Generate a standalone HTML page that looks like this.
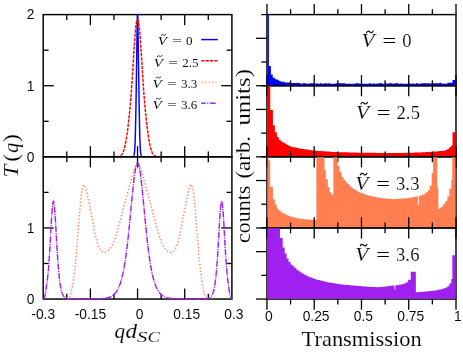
<!DOCTYPE html>
<html><head><meta charset="utf-8"><title>chart</title>
<style>html,body{margin:0;padding:0;background:#fff;overflow:hidden}svg{display:block;will-change:transform}</style></head>
<body><svg width="463" height="353" viewBox="0 0 463 353">
<rect width="463" height="353" fill="#fff"/>
<rect x="43.2" y="14.6" width="188.7" height="142.22" fill="none" stroke="#000" stroke-width="1.45"/>
<line x1="66.79" y1="14.6" x2="66.79" y2="20" stroke="#000" stroke-width="1.3"/>
<line x1="66.79" y1="156.82" x2="66.79" y2="151.42" stroke="#000" stroke-width="1.3"/>
<line x1="90.38" y1="14.6" x2="90.38" y2="25.2" stroke="#000" stroke-width="1.3"/>
<line x1="90.38" y1="156.82" x2="90.38" y2="146.22" stroke="#000" stroke-width="1.3"/>
<line x1="113.96" y1="14.6" x2="113.96" y2="20" stroke="#000" stroke-width="1.3"/>
<line x1="113.96" y1="156.82" x2="113.96" y2="151.42" stroke="#000" stroke-width="1.3"/>
<line x1="137.55" y1="14.6" x2="137.55" y2="25.2" stroke="#000" stroke-width="1.3"/>
<line x1="137.55" y1="156.82" x2="137.55" y2="146.22" stroke="#000" stroke-width="1.3"/>
<line x1="161.14" y1="14.6" x2="161.14" y2="20" stroke="#000" stroke-width="1.3"/>
<line x1="161.14" y1="156.82" x2="161.14" y2="151.42" stroke="#000" stroke-width="1.3"/>
<line x1="184.72" y1="14.6" x2="184.72" y2="25.2" stroke="#000" stroke-width="1.3"/>
<line x1="184.72" y1="156.82" x2="184.72" y2="146.22" stroke="#000" stroke-width="1.3"/>
<line x1="208.31" y1="14.6" x2="208.31" y2="20" stroke="#000" stroke-width="1.3"/>
<line x1="208.31" y1="156.82" x2="208.31" y2="151.42" stroke="#000" stroke-width="1.3"/>
<line x1="43.2" y1="50.16" x2="48.6" y2="50.16" stroke="#000" stroke-width="1.3"/>
<line x1="231.9" y1="50.16" x2="226.5" y2="50.16" stroke="#000" stroke-width="1.3"/>
<line x1="43.2" y1="85.71" x2="53.8" y2="85.71" stroke="#000" stroke-width="1.3"/>
<line x1="231.9" y1="85.71" x2="221.3" y2="85.71" stroke="#000" stroke-width="1.3"/>
<line x1="43.2" y1="121.27" x2="48.6" y2="121.27" stroke="#000" stroke-width="1.3"/>
<line x1="231.9" y1="121.27" x2="226.5" y2="121.27" stroke="#000" stroke-width="1.3"/>
<g fill="none" stroke-width="1.45" stroke-linejoin="round">
<path d="M132.55,156.82 L132.62,156.78 L132.71,156.74 L132.81,156.69 L132.93,156.63 L133.06,156.57 L133.19,156.49 L133.31,156.39 L133.44,156.27 L133.55,156.14 L133.65,155.97 L133.74,155.79 L133.82,155.6 L133.9,155.39 L133.97,155.17 L134.04,154.92 L134.1,154.65 L134.17,154.36 L134.23,154.03 L134.29,153.67 L134.35,153.27 L134.41,152.84 L134.46,152.39 L134.52,151.92 L134.57,151.41 L134.62,150.88 L134.67,150.31 L134.71,149.69 L134.76,149.04 L134.8,148.34 L134.85,147.58 L134.89,146.79 L134.94,145.96 L134.98,145.11 L135.02,144.21 L135.06,143.27 L135.09,142.27 L135.13,141.22 L135.17,140.09 L135.21,138.9 L135.25,137.62 L135.29,136.25 L135.33,134.79 L135.37,133.23 L135.41,131.61 L135.45,129.94 L135.49,128.22 L135.53,126.48 L135.57,124.73 L135.61,122.99 L135.65,121.27 L135.69,119.57 L135.72,117.9 L135.76,116.22 L135.79,114.53 L135.83,112.82 L135.86,111.08 L135.9,109.29 L135.93,107.43 L135.97,105.51 L136,103.49 L136.03,101.39 L136.07,99.21 L136.1,96.96 L136.14,94.65 L136.17,92.29 L136.21,89.89 L136.24,87.45 L136.28,84.99 L136.31,82.51 L136.35,80.02 L136.39,77.52 L136.43,74.99 L136.46,72.43 L136.5,69.84 L136.54,67.22 L136.58,64.58 L136.62,61.9 L136.67,59.2 L136.71,56.47 L136.75,53.71 L136.79,50.83 L136.84,47.76 L136.88,44.57 L136.93,41.33 L136.98,38.11 L137.02,34.97 L137.07,31.98 L137.12,29.2 L137.16,26.71 L137.2,24.56 L137.24,22.69 L137.28,21.02 L137.31,19.53 L137.35,18.24 L137.38,17.13 L137.41,16.23 L137.45,15.52 L137.48,15.01 L137.52,14.7 L137.55,14.6 L137.58,14.7 L137.62,15.01 L137.65,15.52 L137.69,16.23 L137.72,17.13 L137.75,18.24 L137.79,19.53 L137.82,21.02 L137.86,22.69 L137.9,24.56 L137.94,26.71 L137.98,29.2 L138.03,31.98 L138.08,34.97 L138.12,38.11 L138.17,41.33 L138.22,44.57 L138.26,47.76 L138.31,50.83 L138.35,53.71 L138.39,56.47 L138.43,59.2 L138.48,61.9 L138.52,64.58 L138.56,67.22 L138.6,69.84 L138.64,72.43 L138.67,74.99 L138.71,77.52 L138.75,80.02 L138.79,82.51 L138.82,84.99 L138.86,87.45 L138.89,89.89 L138.93,92.29 L138.96,94.65 L139,96.96 L139.03,99.21 L139.07,101.39 L139.1,103.49 L139.13,105.51 L139.17,107.43 L139.2,109.29 L139.24,111.08 L139.27,112.82 L139.31,114.53 L139.34,116.22 L139.38,117.9 L139.41,119.57 L139.45,121.27 L139.49,122.99 L139.53,124.73 L139.57,126.48 L139.61,128.22 L139.65,129.94 L139.69,131.61 L139.73,133.23 L139.77,134.79 L139.81,136.25 L139.85,137.62 L139.89,138.9 L139.93,140.09 L139.97,141.22 L140.01,142.27 L140.04,143.27 L140.08,144.21 L140.12,145.11 L140.16,145.96 L140.21,146.79 L140.25,147.58 L140.3,148.34 L140.34,149.04 L140.39,149.69 L140.43,150.31 L140.48,150.88 L140.53,151.41 L140.58,151.92 L140.64,152.39 L140.69,152.84 L140.75,153.27 L140.81,153.67 L140.87,154.03 L140.93,154.36 L141,154.65 L141.06,154.92 L141.13,155.17 L141.2,155.39 L141.28,155.6 L141.36,155.79 L141.45,155.97 L141.55,156.14 L141.66,156.27 L141.79,156.39 L141.91,156.49 L142.04,156.57 L142.17,156.63 L142.29,156.69 L142.39,156.74 L142.48,156.78 L142.55,156.82" stroke="#0000ff"/>
<path d="M116.55,156.82 L116.73,156.8 L116.97,156.76 L117.26,156.73 L117.58,156.69 L117.93,156.64 L118.28,156.58 L118.63,156.52 L118.97,156.44 L119.28,156.36 L119.55,156.26 L119.79,156.14 L120.02,156.02 L120.24,155.89 L120.45,155.75 L120.64,155.59 L120.83,155.43 L121.02,155.26 L121.2,155.08 L121.37,154.89 L121.55,154.69 L121.72,154.49 L121.88,154.29 L122.04,154.08 L122.19,153.87 L122.33,153.64 L122.47,153.4 L122.62,153.14 L122.76,152.85 L122.9,152.54 L123.05,152.2 L123.2,151.84 L123.35,151.45 L123.5,151.05 L123.65,150.63 L123.8,150.18 L123.95,149.71 L124.1,149.22 L124.25,148.7 L124.4,148.15 L124.55,147.58 L124.7,146.98 L124.85,146.36 L125,145.72 L125.15,145.05 L125.3,144.36 L125.45,143.64 L125.6,142.89 L125.75,142.11 L125.9,141.31 L126.05,140.47 L126.2,139.61 L126.35,138.73 L126.5,137.83 L126.65,136.9 L126.79,135.94 L126.94,134.94 L127.09,133.9 L127.24,132.82 L127.4,131.69 L127.55,130.51 L127.71,129.27 L127.87,127.96 L128.03,126.61 L128.19,125.2 L128.35,123.76 L128.51,122.29 L128.67,120.8 L128.83,119.29 L128.99,117.79 L129.15,116.29 L129.3,114.81 L129.46,113.33 L129.61,111.86 L129.76,110.37 L129.91,108.87 L130.05,107.33 L130.2,105.75 L130.35,104.12 L130.5,102.42 L130.65,100.65 L130.8,98.8 L130.95,96.87 L131.1,94.89 L131.25,92.86 L131.41,90.78 L131.56,88.67 L131.71,86.52 L131.86,84.36 L132,82.19 L132.15,80.02 L132.29,77.83 L132.43,75.6 L132.57,73.33 L132.71,71.04 L132.85,68.73 L132.99,66.42 L133.13,64.11 L133.27,61.81 L133.41,59.52 L133.55,57.27 L133.7,54.99 L133.85,52.65 L134,50.29 L134.15,47.92 L134.31,45.58 L134.46,43.29 L134.61,41.08 L134.76,38.98 L134.91,37.02 L135.05,35.22 L135.19,33.57 L135.32,32.03 L135.46,30.6 L135.59,29.26 L135.72,28.02 L135.85,26.88 L135.97,25.82 L136.1,24.85 L136.22,23.95 L136.35,23.13 L136.47,22.4 L136.6,21.76 L136.72,21.22 L136.84,20.76 L136.96,20.38 L137.07,20.08 L137.19,19.85 L137.31,19.7 L137.43,19.61 L137.55,19.58 L137.67,19.61 L137.79,19.7 L137.91,19.85 L138.03,20.08 L138.14,20.38 L138.26,20.76 L138.38,21.22 L138.5,21.76 L138.63,22.4 L138.75,23.13 L138.88,23.95 L139,24.85 L139.13,25.82 L139.25,26.88 L139.38,28.02 L139.51,29.26 L139.64,30.6 L139.78,32.03 L139.91,33.57 L140.05,35.22 L140.19,37.02 L140.34,38.98 L140.49,41.08 L140.64,43.29 L140.79,45.58 L140.95,47.92 L141.1,50.29 L141.25,52.65 L141.4,54.99 L141.55,57.27 L141.69,59.52 L141.83,61.81 L141.97,64.11 L142.11,66.42 L142.25,68.73 L142.39,71.04 L142.53,73.33 L142.67,75.6 L142.81,77.83 L142.95,80.02 L143.1,82.19 L143.24,84.36 L143.39,86.52 L143.54,88.67 L143.69,90.78 L143.85,92.86 L144,94.89 L144.15,96.87 L144.3,98.8 L144.45,100.65 L144.6,102.42 L144.75,104.12 L144.9,105.75 L145.05,107.33 L145.19,108.87 L145.34,110.37 L145.49,111.86 L145.64,113.33 L145.8,114.81 L145.95,116.29 L146.11,117.79 L146.27,119.29 L146.43,120.8 L146.59,122.29 L146.75,123.76 L146.91,125.2 L147.07,126.61 L147.23,127.96 L147.39,129.27 L147.55,130.51 L147.7,131.69 L147.86,132.82 L148.01,133.9 L148.16,134.94 L148.31,135.94 L148.45,136.9 L148.6,137.83 L148.75,138.73 L148.9,139.61 L149.05,140.47 L149.2,141.31 L149.35,142.11 L149.5,142.89 L149.65,143.64 L149.8,144.36 L149.95,145.05 L150.1,145.72 L150.25,146.36 L150.4,146.98 L150.55,147.58 L150.7,148.15 L150.85,148.7 L151,149.22 L151.15,149.71 L151.3,150.18 L151.45,150.63 L151.6,151.05 L151.75,151.45 L151.9,151.84 L152.05,152.2 L152.2,152.54 L152.34,152.85 L152.48,153.14 L152.63,153.4 L152.77,153.64 L152.91,153.87 L153.06,154.08 L153.22,154.29 L153.38,154.49 L153.55,154.69 L153.73,154.89 L153.9,155.08 L154.08,155.26 L154.27,155.43 L154.46,155.59 L154.65,155.75 L154.86,155.89 L155.08,156.02 L155.31,156.14 L155.55,156.26 L155.82,156.36 L156.13,156.44 L156.47,156.52 L156.82,156.58 L157.18,156.64 L157.52,156.69 L157.84,156.73 L158.13,156.76 L158.37,156.8 L158.55,156.82" stroke="#ff0000" stroke-dasharray="3.2 1.1"/>
</g>
<rect x="43.2" y="156.82" width="188.7" height="142.22" fill="none" stroke="#000" stroke-width="1.45"/>
<line x1="66.79" y1="156.82" x2="66.79" y2="162.22" stroke="#000" stroke-width="1.3"/>
<line x1="66.79" y1="299.05" x2="66.79" y2="293.65" stroke="#000" stroke-width="1.3"/>
<line x1="90.38" y1="156.82" x2="90.38" y2="167.42" stroke="#000" stroke-width="1.3"/>
<line x1="90.38" y1="299.05" x2="90.38" y2="288.45" stroke="#000" stroke-width="1.3"/>
<line x1="113.96" y1="156.82" x2="113.96" y2="162.22" stroke="#000" stroke-width="1.3"/>
<line x1="113.96" y1="299.05" x2="113.96" y2="293.65" stroke="#000" stroke-width="1.3"/>
<line x1="137.55" y1="156.82" x2="137.55" y2="167.42" stroke="#000" stroke-width="1.3"/>
<line x1="137.55" y1="299.05" x2="137.55" y2="288.45" stroke="#000" stroke-width="1.3"/>
<line x1="161.14" y1="156.82" x2="161.14" y2="162.22" stroke="#000" stroke-width="1.3"/>
<line x1="161.14" y1="299.05" x2="161.14" y2="293.65" stroke="#000" stroke-width="1.3"/>
<line x1="184.72" y1="156.82" x2="184.72" y2="167.42" stroke="#000" stroke-width="1.3"/>
<line x1="184.72" y1="299.05" x2="184.72" y2="288.45" stroke="#000" stroke-width="1.3"/>
<line x1="208.31" y1="156.82" x2="208.31" y2="162.22" stroke="#000" stroke-width="1.3"/>
<line x1="208.31" y1="299.05" x2="208.31" y2="293.65" stroke="#000" stroke-width="1.3"/>
<line x1="43.2" y1="192.38" x2="48.6" y2="192.38" stroke="#000" stroke-width="1.3"/>
<line x1="231.9" y1="192.38" x2="226.5" y2="192.38" stroke="#000" stroke-width="1.3"/>
<line x1="43.2" y1="227.94" x2="53.8" y2="227.94" stroke="#000" stroke-width="1.3"/>
<line x1="231.9" y1="227.94" x2="221.3" y2="227.94" stroke="#000" stroke-width="1.3"/>
<line x1="43.2" y1="263.49" x2="48.6" y2="263.49" stroke="#000" stroke-width="1.3"/>
<line x1="231.9" y1="263.49" x2="226.5" y2="263.49" stroke="#000" stroke-width="1.3"/>
<g fill="none" stroke-width="1.45" stroke-linejoin="round">
<path d="M67.05,299.05 L67.12,299.05 L67.21,299.05 L67.31,299.05 L67.42,299.05 L67.54,299.05 L67.68,299.05 L67.82,299.05 L67.96,299.05 L68.1,299.05 L68.25,299.05 L68.4,298.9 L68.55,298.73 L68.72,298.55 L68.88,298.33 L69.06,298.09 L69.23,297.8 L69.41,297.48 L69.59,297.11 L69.77,296.68 L69.95,296.21 L70.13,295.69 L70.31,295.16 L70.49,294.59 L70.67,293.99 L70.86,293.33 L71.04,292.61 L71.24,291.82 L71.43,290.94 L71.64,289.96 L71.85,288.88 L72.07,287.67 L72.31,286.34 L72.55,284.9 L72.8,283.37 L73.06,281.77 L73.31,280.13 L73.56,278.45 L73.8,276.77 L74.03,275.1 L74.25,273.45 L74.46,271.8 L74.66,270.1 L74.85,268.36 L75.04,266.6 L75.23,264.84 L75.4,263.08 L75.57,261.35 L75.74,259.64 L75.9,257.98 L76.05,256.38 L76.19,254.85 L76.33,253.38 L76.45,251.95 L76.57,250.56 L76.68,249.18 L76.79,247.81 L76.9,246.44 L77.01,245.05 L77.13,243.63 L77.25,242.16 L77.37,240.68 L77.5,239.21 L77.62,237.75 L77.74,236.28 L77.87,234.78 L78,233.25 L78.13,231.67 L78.26,230.03 L78.4,228.32 L78.55,226.52 L78.7,224.58 L78.86,222.5 L79.03,220.31 L79.2,218.05 L79.38,215.76 L79.55,213.48 L79.73,211.24 L79.9,209.08 L80.08,207.05 L80.25,205.18 L80.42,203.44 L80.58,201.75 L80.75,200.14 L80.91,198.6 L81.08,197.13 L81.24,195.73 L81.41,194.42 L81.58,193.18 L81.76,192.03 L81.95,190.96 L82.14,189.96 L82.34,189.01 L82.55,188.12 L82.76,187.32 L82.97,186.59 L83.18,185.97 L83.4,185.46 L83.62,185.07 L83.83,184.81 L84.05,184.7 L84.26,184.75 L84.48,184.95 L84.69,185.29 L84.9,185.75 L85.11,186.32 L85.33,186.99 L85.55,187.73 L85.78,188.53 L86.01,189.37 L86.25,190.25 L86.5,191.17 L86.74,192.16 L86.99,193.21 L87.25,194.34 L87.51,195.52 L87.77,196.78 L88.05,198.09 L88.34,199.47 L88.64,200.91 L88.95,202.41 L89.28,204.01 L89.64,205.73 L90.01,207.56 L90.39,209.45 L90.78,211.39 L91.17,213.35 L91.56,215.3 L91.94,217.21 L92.3,219.06 L92.65,220.83 L92.98,222.54 L93.3,224.26 L93.61,225.97 L93.92,227.65 L94.22,229.3 L94.51,230.91 L94.8,232.45 L95.09,233.93 L95.37,235.32 L95.65,236.61 L95.92,237.81 L96.19,238.93 L96.45,239.97 L96.7,240.93 L96.95,241.84 L97.2,242.69 L97.45,243.5 L97.71,244.27 L97.98,245 L98.25,245.72 L98.53,246.39 L98.82,247.03 L99.11,247.61 L99.4,248.16 L99.7,248.66 L100,249.13 L100.31,249.57 L100.62,249.97 L100.93,250.34 L101.25,250.69 L101.57,251.02 L101.9,251.32 L102.22,251.6 L102.56,251.84 L102.89,252.05 L103.23,252.22 L103.58,252.35 L103.93,252.44 L104.29,252.48 L104.65,252.47 L105.02,252.4 L105.41,252.28 L105.8,252.09 L106.2,251.87 L106.6,251.6 L107,251.31 L107.4,250.99 L107.79,250.66 L108.18,250.32 L108.55,249.98 L108.91,249.65 L109.26,249.32 L109.6,248.99 L109.93,248.64 L110.26,248.26 L110.59,247.86 L110.92,247.41 L111.26,246.91 L111.6,246.35 L111.95,245.72 L112.3,245.04 L112.65,244.35 L112.99,243.63 L113.34,242.87 L113.69,242.05 L114.05,241.16 L114.42,240.18 L114.81,239.11 L115.22,237.92 L115.65,236.61 L116.11,235.15 L116.6,233.53 L117.11,231.78 L117.64,229.93 L118.18,228 L118.72,226.03 L119.26,224.03 L119.81,222.05 L120.34,220.09 L120.85,218.2 L121.36,216.32 L121.86,214.42 L122.36,212.5 L122.87,210.57 L123.36,208.65 L123.85,206.74 L124.34,204.86 L124.82,203.02 L125.29,201.23 L125.75,199.49 L126.2,197.81 L126.65,196.17 L127.08,194.57 L127.51,192.99 L127.94,191.46 L128.35,189.95 L128.76,188.47 L129.17,187.02 L129.56,185.6 L129.95,184.2 L130.33,182.81 L130.72,181.43 L131.1,180.06 L131.47,178.71 L131.83,177.4 L132.18,176.14 L132.52,174.93 L132.85,173.79 L133.16,172.73 L133.45,171.76 L133.72,170.88 L133.97,170.08 L134.21,169.35 L134.43,168.69 L134.64,168.09 L134.84,167.54 L135.03,167.04 L135.21,166.57 L135.38,166.13 L135.55,165.71 L135.71,165.34 L135.85,165.01 L135.99,164.74 L136.11,164.51 L136.23,164.31 L136.34,164.14 L136.45,163.99 L136.55,163.85 L136.65,163.72 L136.75,163.58 L136.85,163.45 L136.94,163.32 L137.02,163.22 L137.1,163.13 L137.18,163.05 L137.25,162.98 L137.32,162.93 L137.4,162.9 L137.47,162.88 L137.55,162.87 L137.63,162.88 L137.7,162.9 L137.78,162.93 L137.85,162.98 L137.93,163.05 L138,163.13 L138.08,163.22 L138.16,163.32 L138.25,163.45 L138.35,163.58 L138.45,163.72 L138.55,163.85 L138.65,163.99 L138.76,164.14 L138.87,164.31 L138.99,164.51 L139.11,164.74 L139.25,165.01 L139.39,165.34 L139.55,165.71 L139.72,166.13 L139.89,166.57 L140.07,167.04 L140.26,167.54 L140.46,168.09 L140.67,168.69 L140.89,169.35 L141.13,170.08 L141.38,170.88 L141.65,171.76 L141.94,172.73 L142.25,173.79 L142.58,174.93 L142.92,176.14 L143.27,177.4 L143.63,178.71 L144,180.06 L144.38,181.43 L144.77,182.81 L145.15,184.2 L145.54,185.6 L145.93,187.02 L146.34,188.47 L146.75,189.95 L147.16,191.46 L147.59,192.99 L148.02,194.57 L148.45,196.17 L148.9,197.81 L149.35,199.49 L149.81,201.23 L150.28,203.02 L150.76,204.86 L151.25,206.74 L151.74,208.65 L152.23,210.57 L152.74,212.5 L153.24,214.42 L153.74,216.32 L154.25,218.2 L154.76,220.09 L155.29,222.05 L155.84,224.03 L156.38,226.03 L156.93,228 L157.46,229.93 L157.99,231.78 L158.5,233.53 L158.99,235.15 L159.45,236.61 L159.88,237.92 L160.29,239.11 L160.68,240.18 L161.05,241.16 L161.41,242.05 L161.76,242.87 L162.11,243.63 L162.45,244.35 L162.8,245.04 L163.15,245.72 L163.5,246.35 L163.84,246.91 L164.18,247.41 L164.51,247.86 L164.84,248.26 L165.17,248.64 L165.5,248.99 L165.84,249.32 L166.19,249.65 L166.55,249.98 L166.92,250.32 L167.31,250.66 L167.7,250.99 L168.1,251.31 L168.5,251.6 L168.9,251.87 L169.3,252.09 L169.69,252.28 L170.08,252.4 L170.45,252.47 L170.81,252.48 L171.17,252.44 L171.52,252.35 L171.87,252.22 L172.21,252.05 L172.54,251.84 L172.88,251.6 L173.2,251.32 L173.53,251.02 L173.85,250.69 L174.17,250.34 L174.48,249.97 L174.79,249.57 L175.1,249.13 L175.4,248.66 L175.7,248.16 L175.99,247.61 L176.28,247.03 L176.57,246.39 L176.85,245.72 L177.12,245 L177.39,244.27 L177.65,243.5 L177.9,242.69 L178.15,241.84 L178.4,240.93 L178.65,239.97 L178.91,238.93 L179.18,237.81 L179.45,236.61 L179.73,235.32 L180.01,233.93 L180.3,232.45 L180.59,230.91 L180.88,229.3 L181.18,227.65 L181.49,225.97 L181.8,224.26 L182.12,222.54 L182.45,220.83 L182.8,219.06 L183.16,217.21 L183.54,215.3 L183.93,213.35 L184.32,211.39 L184.71,209.45 L185.09,207.56 L185.46,205.73 L185.82,204.01 L186.15,202.41 L186.46,200.91 L186.76,199.47 L187.05,198.09 L187.33,196.78 L187.59,195.52 L187.85,194.34 L188.11,193.21 L188.36,192.16 L188.6,191.17 L188.85,190.25 L189.09,189.37 L189.32,188.53 L189.55,187.73 L189.77,186.99 L189.99,186.32 L190.2,185.75 L190.41,185.29 L190.62,184.95 L190.84,184.75 L191.05,184.7 L191.27,184.81 L191.48,185.07 L191.7,185.46 L191.92,185.97 L192.13,186.59 L192.34,187.32 L192.55,188.12 L192.76,189.01 L192.96,189.96 L193.15,190.96 L193.34,192.03 L193.52,193.18 L193.69,194.42 L193.86,195.73 L194.03,197.13 L194.19,198.6 L194.35,200.14 L194.52,201.75 L194.68,203.44 L194.85,205.18 L195.02,207.05 L195.2,209.08 L195.37,211.24 L195.55,213.48 L195.72,215.76 L195.9,218.05 L196.07,220.31 L196.24,222.5 L196.4,224.58 L196.55,226.52 L196.7,228.32 L196.84,230.03 L196.97,231.67 L197.1,233.25 L197.23,234.78 L197.36,236.28 L197.48,237.75 L197.6,239.21 L197.73,240.68 L197.85,242.16 L197.97,243.63 L198.09,245.05 L198.2,246.44 L198.31,247.81 L198.42,249.18 L198.53,250.56 L198.65,251.95 L198.77,253.38 L198.91,254.85 L199.05,256.38 L199.2,257.98 L199.36,259.64 L199.53,261.35 L199.7,263.08 L199.88,264.84 L200.06,266.6 L200.25,268.36 L200.44,270.1 L200.64,271.8 L200.85,273.45 L201.07,275.1 L201.3,276.77 L201.54,278.45 L201.79,280.13 L202.04,281.77 L202.3,283.37 L202.55,284.9 L202.79,286.34 L203.03,287.67 L203.25,288.88 L203.46,289.96 L203.67,290.94 L203.86,291.82 L204.06,292.61 L204.24,293.33 L204.43,293.99 L204.61,294.59 L204.79,295.16 L204.97,295.69 L205.15,296.21 L205.33,296.68 L205.51,297.11 L205.69,297.48 L205.87,297.8 L206.04,298.09 L206.22,298.33 L206.38,298.55 L206.55,298.73 L206.7,298.9 L206.85,299.05 L207,299.05 L207.14,299.05 L207.28,299.05 L207.42,299.05 L207.56,299.05 L207.68,299.05 L207.79,299.05 L207.89,299.05 L207.98,299.05 L208.05,299.05" stroke="#ff7f50" stroke-dasharray="1.3 2.1"/>
<path d="M43.2,299.05 L43.45,298.79 L43.7,298.47 L43.95,298.08 L44.2,297.59 L44.45,297 L44.7,296.29 L44.95,295.44 L45.2,294.43 L45.45,293.22 L45.7,291.79 L45.95,290.11 L46.2,288.14 L46.45,286.03 L46.7,284.51 L46.95,282.83 L47.2,280.98 L47.45,278.95 L47.7,276.71 L47.95,274.27 L48.2,271.61 L48.45,268.73 L48.7,265.61 L48.95,262.27 L49.2,258.7 L49.45,254.91 L49.7,250.92 L49.95,246.75 L50.2,242.43 L50.45,238.01 L50.7,233.54 L50.95,229.07 L51.2,224.67 L51.45,220.42 L51.7,216.4 L51.95,212.69 L52.2,209.38 L52.45,206.54 L52.7,204.25 L52.95,202.57 L53.2,201.55 L53.45,201.2 L53.7,201.55 L53.95,202.57 L54.2,204.25 L54.45,206.54 L54.7,209.38 L54.95,212.69 L55.2,216.4 L55.45,220.42 L55.7,224.67 L55.95,229.07 L56.2,233.54 L56.45,238.01 L56.7,242.43 L56.95,246.75 L57.2,250.92 L57.45,254.91 L57.7,258.7 L57.95,262.27 L58.2,265.61 L58.45,268.73 L58.7,271.61 L58.95,274.27 L59.2,276.71 L59.45,278.95 L59.7,280.98 L59.95,282.83 L60.2,284.51 L60.45,286.03 L60.7,287.4 L60.95,288.64 L61.2,289.75 L61.45,290.75 L61.7,291.64 L61.95,292.45 L62.2,293.17 L62.45,293.81 L62.7,294.38 L62.95,294.89 L63.2,295.35 L63.45,295.76 L63.7,296.12 L63.95,296.45 L64.2,296.74 L64.45,296.99 L64.7,297.22 L64.95,297.43 L65.2,297.61 L65.45,297.77 L65.7,297.91 L65.95,298.04 L66.2,298.15 L66.45,298.25 L66.7,298.34 L66.95,298.42 L67.2,298.49 L67.45,298.55 L67.7,298.61 L67.95,298.66 L68.2,298.7 L68.45,298.74 L68.7,298.78 L68.95,298.81 L69.2,298.83 L69.45,298.86 L69.7,298.88 L69.95,298.9 L70.2,298.91 L70.45,298.93 L70.7,298.94 L70.95,298.96 L71.2,298.97 L71.45,298.98 L71.7,298.98 L71.95,298.99 L72.2,299 L72.45,299 L72.7,299.01 L72.95,299.01 L73.2,299.02 L73.45,299.02 L73.7,299.02 L73.95,299.03 L74.2,299.03 L74.45,299.03 L74.7,299.03 L74.95,299.03 L75.2,299.04 L75.45,299.04 L75.7,299.04 L75.95,299.04 L76.2,299.04 L76.45,299.04 L76.7,299.04 L76.95,299.04 L77.2,299.04 L77.45,299.04 L77.7,299.04 L77.95,299.04 L78.2,299.04 L78.45,299.04 L78.7,299.04 L78.95,299.04 L79.2,299.04 L79.45,299.04 L79.7,299.04 L79.95,299.04 L80.2,299.04 L80.45,299.04 L80.7,299.04 L80.95,299.04 L81.2,299.04 L81.45,299.04 L81.7,299.04 L81.95,299.04 L82.2,299.04 L82.45,299.04 L82.7,299.04 L82.95,299.04 L83.2,299.04 L83.45,299.04 L83.7,299.04 L83.95,299.04 L84.2,299.04 L84.45,299.04 L84.7,299.04 L84.95,299.04 L85.2,299.04 L85.45,299.04 L85.7,299.03 L85.95,299.03 L86.2,299.03 L86.45,299.03 L86.7,299.03 L86.95,299.03 L87.2,299.03 L87.45,299.03 L87.7,299.03 L87.95,299.03 L88.2,299.02 L88.45,299.02 L88.7,299.02 L88.95,299.02 L89.2,299.02 L89.45,299.02 L89.7,299.02 L89.95,299.01 L90.2,299.01 L90.45,299.01 L90.7,299.01 L90.95,299.01 L91.2,299 L91.45,299 L91.7,299 L91.95,299 L92.2,298.99 L92.45,298.99 L92.7,298.99 L92.95,298.98 L93.2,298.98 L93.45,298.98 L93.7,298.97 L93.95,298.97 L94.2,298.96 L94.45,298.96 L94.7,298.96 L94.95,298.95 L95.2,298.95 L95.45,298.94 L95.7,298.93 L95.95,298.93 L96.2,298.92 L96.45,298.92 L96.7,298.91 L96.95,298.9 L97.2,298.89 L97.45,298.89 L97.7,298.88 L97.95,298.87 L98.2,298.86 L98.45,298.85 L98.7,298.84 L98.95,298.83 L99.2,298.82 L99.45,298.8 L99.7,298.79 L99.95,298.78 L100.2,298.76 L100.45,298.75 L100.7,298.73 L100.95,298.72 L101.2,298.7 L101.45,298.68 L101.7,298.66 L101.95,298.64 L102.2,298.62 L102.45,298.6 L102.7,298.58 L102.95,298.55 L103.2,298.52 L103.45,298.5 L103.7,298.47 L103.95,298.44 L104.2,298.41 L104.45,298.37 L104.7,298.34 L104.95,298.3 L105.2,298.26 L105.45,298.22 L105.7,298.18 L105.95,298.14 L106.2,298.09 L106.45,298.04 L106.7,297.99 L106.95,297.93 L107.2,297.87 L107.45,297.81 L107.7,297.75 L107.95,297.68 L108.2,297.61 L108.45,297.54 L108.7,297.46 L108.95,297.38 L109.2,297.29 L109.45,297.2 L109.7,297.11 L109.95,297.01 L110.2,296.9 L110.45,296.79 L110.7,296.68 L110.95,296.55 L111.2,296.43 L111.45,296.29 L111.7,296.15 L111.95,296 L112.2,295.85 L112.45,295.68 L112.7,295.51 L112.95,295.33 L113.2,295.14 L113.45,294.94 L113.7,294.73 L113.95,294.51 L114.2,294.28 L114.45,294.04 L114.7,293.78 L114.95,293.51 L115.2,293.23 L115.45,292.94 L115.7,292.63 L115.95,292.31 L116.2,291.97 L116.45,291.61 L116.7,291.23 L116.95,290.84 L117.2,290.43 L117.45,290 L117.7,289.55 L117.95,289.07 L118.2,288.58 L118.45,288.06 L118.7,287.51 L118.95,286.94 L119.2,286.34 L119.45,285.72 L119.7,285.06 L119.95,284.38 L120.2,283.66 L120.45,282.92 L120.7,282.13 L120.95,281.32 L121.2,280.46 L121.45,279.57 L121.7,278.64 L121.95,277.67 L122.2,276.66 L122.45,275.6 L122.7,274.51 L122.95,273.36 L123.2,272.17 L123.45,270.93 L123.7,269.64 L123.95,268.3 L124.2,266.91 L124.45,265.46 L124.7,263.96 L124.95,262.41 L125.2,260.8 L125.45,259.13 L125.7,257.41 L125.95,255.63 L126.2,253.79 L126.45,251.9 L126.7,249.95 L126.95,247.93 L127.2,245.87 L127.45,243.74 L127.7,241.57 L127.95,239.34 L128.2,237.05 L128.45,234.72 L128.7,232.34 L128.95,229.91 L129.2,227.45 L129.45,224.94 L129.7,222.4 L129.95,219.83 L130.2,217.24 L130.45,214.62 L130.7,211.99 L130.95,209.36 L131.2,206.72 L131.45,204.08 L131.7,201.46 L131.95,198.85 L132.2,196.28 L132.45,193.74 L132.7,191.24 L132.95,188.79 L133.2,186.41 L133.45,184.09 L133.7,181.86 L133.95,179.71 L134.2,177.66 L134.45,175.72 L134.7,173.89 L134.95,172.18 L135.2,170.6 L135.45,169.16 L135.7,167.86 L135.95,166.71 L136.2,165.72 L136.45,164.89 L136.7,164.22 L136.95,163.72 L137.2,163.39 L137.45,163.24 L137.7,163.26 L137.95,163.45 L138.2,163.81 L138.45,164.34 L138.7,165.04 L138.95,165.91 L139.2,166.93 L139.45,168.11 L139.7,169.43 L139.95,170.9 L140.2,172.51 L140.45,174.24 L140.7,176.1 L140.95,178.06 L141.2,180.14 L141.45,182.3 L141.7,184.55 L141.95,186.88 L142.2,189.28 L142.45,191.73 L142.7,194.24 L142.95,196.79 L143.2,199.37 L143.45,201.98 L143.7,204.61 L143.95,207.24 L144.2,209.88 L144.45,212.52 L144.7,215.15 L144.95,217.76 L145.2,220.35 L145.45,222.91 L145.7,225.45 L145.95,227.94 L146.2,230.4 L146.45,232.82 L146.7,235.19 L146.95,237.51 L147.2,239.79 L147.45,242.01 L147.7,244.17 L147.95,246.29 L148.2,248.34 L148.45,250.34 L148.7,252.28 L148.95,254.17 L149.2,255.99 L149.45,257.76 L149.7,259.47 L149.95,261.13 L150.2,262.72 L150.45,264.27 L150.7,265.75 L150.95,267.19 L151.2,268.57 L151.45,269.9 L151.7,271.18 L151.95,272.41 L152.2,273.59 L152.45,274.73 L152.7,275.82 L152.95,276.87 L153.2,277.87 L153.45,278.83 L153.7,279.75 L153.95,280.64 L154.2,281.48 L154.45,282.29 L154.7,283.07 L154.95,283.81 L155.2,284.52 L155.45,285.2 L155.7,285.85 L155.95,286.47 L156.2,287.06 L156.45,287.62 L156.7,288.16 L156.95,288.68 L157.2,289.17 L157.45,289.64 L157.7,290.09 L157.95,290.51 L158.2,290.92 L158.45,291.31 L158.7,291.68 L158.95,292.03 L159.2,292.37 L159.45,292.69 L159.7,293 L159.95,293.29 L160.2,293.57 L160.45,293.83 L160.7,294.09 L160.95,294.33 L161.2,294.55 L161.45,294.77 L161.7,294.98 L161.95,295.18 L162.2,295.37 L162.45,295.54 L162.7,295.72 L162.95,295.88 L163.2,296.03 L163.45,296.18 L163.7,296.32 L163.95,296.45 L164.2,296.58 L164.45,296.7 L164.7,296.81 L164.95,296.92 L165.2,297.03 L165.45,297.13 L165.7,297.22 L165.95,297.31 L166.2,297.4 L166.45,297.48 L166.7,297.55 L166.95,297.63 L167.2,297.7 L167.45,297.76 L167.7,297.83 L167.95,297.89 L168.2,297.94 L168.45,298 L168.7,298.05 L168.95,298.1 L169.2,298.14 L169.45,298.19 L169.7,298.23 L169.95,298.27 L170.2,298.31 L170.45,298.35 L170.7,298.38 L170.95,298.41 L171.2,298.45 L171.45,298.47 L171.7,298.5 L171.95,298.53 L172.2,298.56 L172.45,298.58 L172.7,298.6 L172.95,298.62 L173.2,298.65 L173.45,298.67 L173.7,298.68 L173.95,298.7 L174.2,298.72 L174.45,298.74 L174.7,298.75 L174.95,298.77 L175.2,298.78 L175.45,298.79 L175.7,298.81 L175.95,298.82 L176.2,298.83 L176.45,298.84 L176.7,298.85 L176.95,298.86 L177.2,298.87 L177.45,298.88 L177.7,298.89 L177.95,298.9 L178.2,298.9 L178.45,298.91 L178.7,298.92 L178.95,298.92 L179.2,298.93 L179.45,298.94 L179.7,298.94 L179.95,298.95 L180.2,298.95 L180.45,298.96 L180.7,298.96 L180.95,298.97 L181.2,298.97 L181.45,298.97 L181.7,298.98 L181.95,298.98 L182.2,298.98 L182.45,298.99 L182.7,298.99 L182.95,298.99 L183.2,299 L183.45,299 L183.7,299 L183.95,299 L184.2,299.01 L184.45,299.01 L184.7,299.01 L184.95,299.01 L185.2,299.01 L185.45,299.02 L185.7,299.02 L185.95,299.02 L186.2,299.02 L186.45,299.02 L186.7,299.02 L186.95,299.02 L187.2,299.03 L187.45,299.03 L187.7,299.03 L187.95,299.03 L188.2,299.03 L188.45,299.03 L188.7,299.03 L188.95,299.03 L189.2,299.03 L189.45,299.03 L189.7,299.04 L189.95,299.04 L190.2,299.04 L190.45,299.04 L190.7,299.04 L190.95,299.04 L191.2,299.04 L191.45,299.04 L191.7,299.04 L191.95,299.04 L192.2,299.04 L192.45,299.04 L192.7,299.04 L192.95,299.04 L193.2,299.04 L193.45,299.04 L193.7,299.04 L193.95,299.04 L194.2,299.04 L194.45,299.04 L194.7,299.04 L194.95,299.04 L195.2,299.04 L195.45,299.04 L195.7,299.04 L195.95,299.04 L196.2,299.04 L196.45,299.04 L196.7,299.04 L196.95,299.04 L197.2,299.04 L197.45,299.04 L197.7,299.04 L197.95,299.04 L198.2,299.04 L198.45,299.04 L198.7,299.04 L198.95,299.04 L199.2,299.04 L199.45,299.04 L199.7,299.04 L199.95,299.04 L200.2,299.03 L200.45,299.03 L200.7,299.03 L200.95,299.03 L201.2,299.03 L201.45,299.02 L201.7,299.02 L201.95,299.02 L202.2,299.01 L202.45,299.01 L202.7,299 L202.95,299 L203.2,298.99 L203.45,298.98 L203.7,298.97 L203.95,298.96 L204.2,298.95 L204.45,298.94 L204.7,298.93 L204.95,298.91 L205.2,298.89 L205.45,298.87 L205.7,298.85 L205.95,298.83 L206.2,298.8 L206.45,298.77 L206.7,298.73 L206.95,298.69 L207.2,298.65 L207.45,298.6 L207.7,298.54 L207.95,298.48 L208.2,298.4 L208.45,298.32 L208.7,298.23 L208.95,298.13 L209.2,298.01 L209.45,297.88 L209.7,297.74 L209.95,297.57 L210.2,297.39 L210.45,297.18 L210.7,296.94 L210.95,296.68 L211.2,296.39 L211.45,296.05 L211.7,295.68 L211.95,295.26 L212.2,294.8 L212.45,294.27 L212.7,293.69 L212.95,293.03 L213.2,292.29 L213.45,291.47 L213.7,290.56 L213.95,289.54 L214.2,288.4 L214.45,287.14 L214.7,285.74 L214.95,284.19 L215.2,282.48 L215.45,280.59 L215.7,278.52 L215.95,276.24 L216.2,273.76 L216.45,271.05 L216.7,268.12 L216.95,264.96 L217.2,261.57 L217.45,257.96 L217.7,254.12 L217.95,250.1 L218.2,245.89 L218.45,241.55 L218.7,237.12 L218.95,232.64 L219.2,228.18 L219.45,223.8 L219.7,219.59 L219.95,215.63 L220.2,211.99 L220.45,208.77 L220.7,206.04 L220.95,203.87 L221.2,202.31 L221.45,201.42 L221.7,201.21 L221.95,201.7 L222.2,202.86 L222.45,204.67 L222.7,207.07 L222.95,210.01 L223.2,213.4 L223.45,217.18 L223.7,221.25 L223.95,225.54 L224.2,229.96 L224.45,234.43 L224.7,238.9 L224.95,243.3 L225.2,247.59 L225.45,251.73 L225.7,255.68 L225.95,259.43 L226.2,262.95 L226.45,266.25 L226.7,269.32 L226.95,272.16 L227.2,274.78 L227.45,277.18 L227.7,279.37 L227.95,281.37 L228.2,283.18 L228.45,284.83 L228.7,286.33 L228.95,288.56 L229.2,290.47 L229.45,292.1 L229.7,293.48 L229.95,294.64 L230.2,295.63 L230.45,296.45 L230.7,297.13 L230.95,297.7 L231.2,298.16 L231.45,298.54 L231.7,298.85" stroke="#a020f0" stroke-dasharray="6.2 1.1 1.1 1.1"/>
</g>
<rect x="266.95" y="14.6" width="189.05" height="71.11" fill="none" stroke="#000" stroke-width="1.45"/>
<line x1="266.95" y1="14.6" x2="266.95" y2="4" stroke="#000" stroke-width="1.3"/>
<line x1="266.95" y1="85.71" x2="266.95" y2="96.31" stroke="#000" stroke-width="1.3"/>
<line x1="290.58" y1="14.6" x2="290.58" y2="9.2" stroke="#000" stroke-width="1.3"/>
<line x1="290.58" y1="85.71" x2="290.58" y2="91.11" stroke="#000" stroke-width="1.3"/>
<line x1="314.21" y1="14.6" x2="314.21" y2="4" stroke="#000" stroke-width="1.3"/>
<line x1="314.21" y1="85.71" x2="314.21" y2="96.31" stroke="#000" stroke-width="1.3"/>
<line x1="337.84" y1="14.6" x2="337.84" y2="9.2" stroke="#000" stroke-width="1.3"/>
<line x1="337.84" y1="85.71" x2="337.84" y2="91.11" stroke="#000" stroke-width="1.3"/>
<line x1="361.48" y1="14.6" x2="361.48" y2="4" stroke="#000" stroke-width="1.3"/>
<line x1="361.48" y1="85.71" x2="361.48" y2="96.31" stroke="#000" stroke-width="1.3"/>
<line x1="385.11" y1="14.6" x2="385.11" y2="9.2" stroke="#000" stroke-width="1.3"/>
<line x1="385.11" y1="85.71" x2="385.11" y2="91.11" stroke="#000" stroke-width="1.3"/>
<line x1="408.74" y1="14.6" x2="408.74" y2="4" stroke="#000" stroke-width="1.3"/>
<line x1="408.74" y1="85.71" x2="408.74" y2="96.31" stroke="#000" stroke-width="1.3"/>
<line x1="432.37" y1="14.6" x2="432.37" y2="9.2" stroke="#000" stroke-width="1.3"/>
<line x1="432.37" y1="85.71" x2="432.37" y2="91.11" stroke="#000" stroke-width="1.3"/>
<line x1="456" y1="14.6" x2="456" y2="4" stroke="#000" stroke-width="1.3"/>
<line x1="456" y1="85.71" x2="456" y2="96.31" stroke="#000" stroke-width="1.3"/>
<line x1="266.95" y1="14.6" x2="261.25" y2="14.6" stroke="#000" stroke-width="1.3"/>
<line x1="266.95" y1="38.3" x2="256.05" y2="38.3" stroke="#000" stroke-width="1.3"/>
<line x1="266.95" y1="62.01" x2="261.25" y2="62.01" stroke="#000" stroke-width="1.3"/>
<line x1="266.95" y1="85.71" x2="256.05" y2="85.71" stroke="#000" stroke-width="1.3"/>
<path d="M267.5,85.36 L267.5,14.95 L268.9,14.95 L268.9,66.06 L270.9,66.06 L270.9,74.56 L272.7,74.56 L272.7,77.76 L274.88,77.76 L274.88,79.16 L276.84,79.16 L276.84,79.76 L278.8,79.76 L278.8,81.06 L280.76,81.06 L280.76,81.86 L282.72,81.86 L282.72,81.86 L284.68,81.86 L284.68,82.56 L286.64,82.56 L286.64,82.56 L288.6,82.56 L288.6,82.56 L290.56,82.56 L290.56,83.06 L292.52,83.06 L292.52,83.06 L294.48,83.06 L294.48,83.06 L296.44,83.06 L296.44,83.06 L298.4,83.06 L298.4,83.06 L300.36,83.06 L300.36,83.86 L302.32,83.86 L302.32,83.26 L304.28,83.26 L304.28,83.26 L306.24,83.26 L306.24,83.86 L308.2,83.86 L308.2,83.56 L310.16,83.56 L310.16,83.26 L312.12,83.26 L312.12,83.36 L314.08,83.36 L314.08,83.66 L316.04,83.66 L316.04,83.26 L318,83.26 L318,83.86 L319.96,83.86 L319.96,83.26 L321.92,83.26 L321.92,83.86 L323.88,83.86 L323.88,83.36 L325.84,83.36 L325.84,83.56 L327.8,83.56 L327.8,83.26 L329.76,83.26 L329.76,83.86 L331.72,83.86 L331.72,83.86 L333.68,83.86 L333.68,83.66 L335.64,83.66 L335.64,83.36 L337.6,83.36 L337.6,83.26 L339.56,83.26 L339.56,83.26 L341.52,83.26 L341.52,83.36 L343.48,83.36 L343.48,83.36 L345.44,83.36 L345.44,83.66 L347.4,83.66 L347.4,83.86 L349.36,83.86 L349.36,83.86 L351.32,83.86 L351.32,83.66 L353.28,83.66 L353.28,83.86 L355.24,83.86 L355.24,83.26 L357.2,83.26 L357.2,83.36 L359.16,83.36 L359.16,83.66 L361.12,83.66 L361.12,83.86 L363.08,83.86 L363.08,83.66 L365.04,83.66 L365.04,83.86 L367,83.86 L367,83.86 L368.96,83.86 L368.96,83.26 L370.92,83.26 L370.92,83.86 L372.88,83.86 L372.88,83.56 L374.84,83.56 L374.84,83.86 L376.8,83.86 L376.8,83.56 L378.76,83.56 L378.76,83.36 L380.72,83.36 L380.72,83.26 L382.68,83.26 L382.68,83.66 L384.64,83.66 L384.64,83.36 L386.6,83.36 L386.6,83.66 L388.56,83.66 L388.56,83.36 L390.52,83.36 L390.52,83.36 L392.48,83.36 L392.48,83.66 L394.44,83.66 L394.44,83.26 L396.4,83.26 L396.4,83.36 L398.36,83.36 L398.36,83.86 L400.32,83.86 L400.32,83.56 L402.28,83.56 L402.28,83.86 L404.24,83.86 L404.24,83.86 L406.2,83.86 L406.2,83.86 L408.16,83.86 L408.16,83.36 L410.12,83.36 L410.12,83.86 L412.08,83.86 L412.08,83.56 L414.04,83.56 L414.04,83.66 L416,83.66 L416,83.36 L417.96,83.36 L417.96,83.66 L419.92,83.66 L419.92,83.56 L421.88,83.56 L421.88,83.36 L423.84,83.36 L423.84,83.26 L425.8,83.26 L425.8,83.36 L427.76,83.36 L427.76,83.26 L429.72,83.26 L429.72,83.56 L431.68,83.56 L431.68,83.26 L433.64,83.26 L433.64,83.26 L435.6,83.26 L435.6,83.36 L437.56,83.36 L437.56,83.26 L439.52,83.26 L439.52,82.76 L441.48,82.76 L441.48,83.86 L443.44,83.86 L443.44,83.56 L445.4,83.56 L445.4,83.66 L447.36,83.66 L447.36,82.86 L449.32,82.86 L449.32,82.86 L451.28,82.86 L451.28,82.86 L452.5,82.86 L452.5,80.06 L455.45,80.06 L455.45,85.36 Z" fill="#0000ff"/>
<rect x="266.95" y="85.71" width="189.05" height="71.11" fill="none" stroke="#000" stroke-width="1.45"/>
<line x1="266.95" y1="85.71" x2="266.95" y2="75.11" stroke="#000" stroke-width="1.3"/>
<line x1="266.95" y1="156.82" x2="266.95" y2="167.42" stroke="#000" stroke-width="1.3"/>
<line x1="290.58" y1="85.71" x2="290.58" y2="80.31" stroke="#000" stroke-width="1.3"/>
<line x1="290.58" y1="156.82" x2="290.58" y2="162.22" stroke="#000" stroke-width="1.3"/>
<line x1="314.21" y1="85.71" x2="314.21" y2="75.11" stroke="#000" stroke-width="1.3"/>
<line x1="314.21" y1="156.82" x2="314.21" y2="167.42" stroke="#000" stroke-width="1.3"/>
<line x1="337.84" y1="85.71" x2="337.84" y2="80.31" stroke="#000" stroke-width="1.3"/>
<line x1="337.84" y1="156.82" x2="337.84" y2="162.22" stroke="#000" stroke-width="1.3"/>
<line x1="361.48" y1="85.71" x2="361.48" y2="75.11" stroke="#000" stroke-width="1.3"/>
<line x1="361.48" y1="156.82" x2="361.48" y2="167.42" stroke="#000" stroke-width="1.3"/>
<line x1="385.11" y1="85.71" x2="385.11" y2="80.31" stroke="#000" stroke-width="1.3"/>
<line x1="385.11" y1="156.82" x2="385.11" y2="162.22" stroke="#000" stroke-width="1.3"/>
<line x1="408.74" y1="85.71" x2="408.74" y2="75.11" stroke="#000" stroke-width="1.3"/>
<line x1="408.74" y1="156.82" x2="408.74" y2="167.42" stroke="#000" stroke-width="1.3"/>
<line x1="432.37" y1="85.71" x2="432.37" y2="80.31" stroke="#000" stroke-width="1.3"/>
<line x1="432.37" y1="156.82" x2="432.37" y2="162.22" stroke="#000" stroke-width="1.3"/>
<line x1="456" y1="85.71" x2="456" y2="75.11" stroke="#000" stroke-width="1.3"/>
<line x1="456" y1="156.82" x2="456" y2="167.42" stroke="#000" stroke-width="1.3"/>
<line x1="266.95" y1="85.71" x2="261.25" y2="85.71" stroke="#000" stroke-width="1.3"/>
<line x1="266.95" y1="109.42" x2="256.05" y2="109.42" stroke="#000" stroke-width="1.3"/>
<line x1="266.95" y1="133.12" x2="261.25" y2="133.12" stroke="#000" stroke-width="1.3"/>
<line x1="266.95" y1="156.82" x2="256.05" y2="156.82" stroke="#000" stroke-width="1.3"/>
<path d="M267.5,156.47 L267.5,86.06 L269,86.06 L269,86.06 L270.25,86.06 L270.25,109.88 L272.92,109.88 L272.92,125.47 L274.88,125.47 L274.88,132.28 L276.84,132.28 L276.84,136.89 L278.8,136.89 L278.8,139.73 L280.76,139.73 L280.76,141.49 L282.72,141.49 L282.72,142.59 L284.68,142.59 L284.68,143.74 L286.64,143.74 L286.64,144.88 L288.6,144.88 L288.6,146.03 L290.56,146.03 L290.56,146.65 L292.52,146.65 L292.52,147.13 L294.48,147.13 L294.48,147.61 L296.44,147.61 L296.44,148.09 L298.4,148.09 L298.4,148.48 L300.36,148.48 L300.36,148.76 L302.32,148.76 L302.32,149.03 L304.28,149.03 L304.28,149.31 L306.24,149.31 L306.24,149.58 L308.2,149.58 L308.2,149.86 L310.16,149.86 L310.16,150.13 L312.12,150.13 L312.12,150.4 L314.08,150.4 L314.08,150.58 L316.04,150.58 L316.04,150.73 L318,150.73 L318,150.88 L319.96,150.88 L319.96,151.02 L321.92,151.02 L321.92,151.17 L323.88,151.17 L323.88,151.32 L325.84,151.32 L325.84,151.46 L327.8,151.46 L327.8,151.61 L329.76,151.61 L329.76,151.76 L331.72,151.76 L331.72,151.9 L333.68,151.9 L333.68,152.05 L335.64,152.05 L335.64,152.11 L337.6,152.11 L337.6,152.16 L339.56,152.16 L339.56,152.21 L341.52,152.21 L341.52,152.25 L343.48,152.25 L343.48,152.3 L345.44,152.3 L345.44,152.35 L347.4,152.35 L347.4,152.4 L349.36,152.4 L349.36,152.44 L351.32,152.44 L351.32,152.49 L353.28,152.49 L353.28,152.54 L355.24,152.54 L355.24,152.58 L357.2,152.58 L357.2,152.63 L359.16,152.63 L359.16,152.68 L361.12,152.68 L361.12,152.7 L363.08,152.7 L363.08,152.72 L365.04,152.72 L365.04,152.75 L367,152.75 L367,152.77 L368.96,152.77 L368.96,152.79 L370.92,152.79 L370.92,152.82 L372.88,152.82 L372.88,152.84 L374.84,152.84 L374.84,152.86 L376.8,152.86 L376.8,152.89 L378.76,152.89 L378.76,152.91 L380.72,152.91 L380.72,152.94 L382.68,152.94 L382.68,152.96 L384.64,152.96 L384.64,152.97 L386.6,152.97 L386.6,152.96 L388.56,152.96 L388.56,152.95 L390.52,152.95 L390.52,152.94 L392.48,152.94 L392.48,152.93 L394.44,152.93 L394.44,152.92 L396.4,152.92 L396.4,152.91 L398.36,152.91 L398.36,152.9 L400.32,152.9 L400.32,152.89 L402.28,152.89 L402.28,152.88 L404.24,152.88 L404.24,152.87 L406.2,152.87 L406.2,152.82 L408.16,152.82 L408.16,152.76 L410.12,152.76 L410.12,152.71 L412.08,152.71 L412.08,152.66 L414.04,152.66 L414.04,152.61 L416,152.61 L416,152.56 L417.96,152.56 L417.96,152.5 L419.92,152.5 L419.92,152.43 L421.88,152.43 L421.88,152.32 L423.84,152.32 L423.84,152.21 L425.8,152.21 L425.8,152.1 L427.76,152.1 L427.76,152 L429.72,152 L429.72,151.89 L431.68,151.89 L431.68,151.78 L433.64,151.78 L433.64,151.61 L435.6,151.61 L435.6,151.43 L437.56,151.43 L437.56,151.26 L439.52,151.26 L439.52,151.08 L441.48,151.08 L441.48,150.9 L443.44,150.9 L443.44,150.73 L445.4,150.73 L445.4,150.03 L447.36,150.03 L447.36,148.97 L449.32,148.97 L449.32,147.1 L451.28,147.1 L451.28,145.3 L452.55,145.3 L452.55,132.28 L455.45,132.28 L455.45,156.47 Z" fill="#ff0000"/>
<rect x="266.95" y="156.82" width="189.05" height="71.11" fill="none" stroke="#000" stroke-width="1.45"/>
<line x1="266.95" y1="156.82" x2="266.95" y2="146.22" stroke="#000" stroke-width="1.3"/>
<line x1="266.95" y1="227.94" x2="266.95" y2="238.54" stroke="#000" stroke-width="1.3"/>
<line x1="290.58" y1="156.82" x2="290.58" y2="151.42" stroke="#000" stroke-width="1.3"/>
<line x1="290.58" y1="227.94" x2="290.58" y2="233.34" stroke="#000" stroke-width="1.3"/>
<line x1="314.21" y1="156.82" x2="314.21" y2="146.22" stroke="#000" stroke-width="1.3"/>
<line x1="314.21" y1="227.94" x2="314.21" y2="238.54" stroke="#000" stroke-width="1.3"/>
<line x1="337.84" y1="156.82" x2="337.84" y2="151.42" stroke="#000" stroke-width="1.3"/>
<line x1="337.84" y1="227.94" x2="337.84" y2="233.34" stroke="#000" stroke-width="1.3"/>
<line x1="361.48" y1="156.82" x2="361.48" y2="146.22" stroke="#000" stroke-width="1.3"/>
<line x1="361.48" y1="227.94" x2="361.48" y2="238.54" stroke="#000" stroke-width="1.3"/>
<line x1="385.11" y1="156.82" x2="385.11" y2="151.42" stroke="#000" stroke-width="1.3"/>
<line x1="385.11" y1="227.94" x2="385.11" y2="233.34" stroke="#000" stroke-width="1.3"/>
<line x1="408.74" y1="156.82" x2="408.74" y2="146.22" stroke="#000" stroke-width="1.3"/>
<line x1="408.74" y1="227.94" x2="408.74" y2="238.54" stroke="#000" stroke-width="1.3"/>
<line x1="432.37" y1="156.82" x2="432.37" y2="151.42" stroke="#000" stroke-width="1.3"/>
<line x1="432.37" y1="227.94" x2="432.37" y2="233.34" stroke="#000" stroke-width="1.3"/>
<line x1="456" y1="156.82" x2="456" y2="146.22" stroke="#000" stroke-width="1.3"/>
<line x1="456" y1="227.94" x2="456" y2="238.54" stroke="#000" stroke-width="1.3"/>
<line x1="266.95" y1="156.82" x2="261.25" y2="156.82" stroke="#000" stroke-width="1.3"/>
<line x1="266.95" y1="180.53" x2="256.05" y2="180.53" stroke="#000" stroke-width="1.3"/>
<line x1="266.95" y1="204.23" x2="261.25" y2="204.23" stroke="#000" stroke-width="1.3"/>
<line x1="266.95" y1="227.94" x2="256.05" y2="227.94" stroke="#000" stroke-width="1.3"/>
<path d="M267.5,227.59 L267.5,157.18 L268.65,157.18 L268.65,160.59 L270.15,160.59 L270.15,186.79 L272.92,186.79 L272.92,199.33 L274.88,199.33 L274.88,204.82 L276.84,204.82 L276.84,208.79 L278.8,208.79 L278.8,210.69 L280.76,210.69 L280.76,212.17 L282.72,212.17 L282.72,213.4 L284.68,213.4 L284.68,214.33 L286.64,214.33 L286.64,215.21 L288.6,215.21 L288.6,216.09 L290.56,216.09 L290.56,216.79 L292.52,216.79 L292.52,217.26 L294.48,217.26 L294.48,217.72 L296.44,217.72 L296.44,218.19 L298.4,218.19 L298.4,218.66 L300.36,218.66 L300.36,218.85 L302.32,218.85 L302.32,219.03 L304.28,219.03 L304.28,219.21 L306.24,219.21 L306.24,219.38 L308.2,219.38 L308.2,219.56 L310.16,219.56 L310.16,219.74 L312.12,219.74 L312.12,219.9 L314.08,219.9 L314.08,219.96 L316.35,219.96 L316.35,157.18 L318,157.18 L318,157.18 L319.96,157.18 L319.96,157.18 L321.92,157.18 L321.92,157.18 L324.45,157.18 L324.45,170.04 L325.84,170.04 L325.84,179.19 L327.8,179.19 L327.8,187.23 L329.76,187.23 L329.76,192.4 L331.72,192.4 L331.72,195.12 L333.35,195.12 L333.35,157.18 L335.64,157.18 L335.64,157.18 L337.65,157.18 L337.65,165.92 L339.56,165.92 L339.56,171.8 L341.52,171.8 L341.52,176.64 L343.48,176.64 L343.48,179.92 L345.44,179.92 L345.44,182.17 L347.4,182.17 L347.4,184.07 L349.36,184.07 L349.36,186.03 L351.32,186.03 L351.32,187.91 L353.28,187.91 L353.28,189.14 L355.24,189.14 L355.24,190.37 L357.2,190.37 L357.2,191.6 L359.16,191.6 L359.16,192.51 L361.12,192.51 L361.12,193.27 L363.08,193.27 L363.08,194.04 L365.04,194.04 L365.04,194.8 L367,194.8 L367,195.37 L368.96,195.37 L368.96,195.88 L370.92,195.88 L370.92,196.33 L372.88,196.33 L372.88,196.68 L374.84,196.68 L374.84,197.04 L376.8,197.04 L376.8,197.39 L378.76,197.39 L378.76,197.74 L380.72,197.74 L380.72,198.1 L382.68,198.1 L382.68,198.32 L384.64,198.32 L384.64,198.49 L386.6,198.49 L386.6,198.67 L388.56,198.67 L388.56,198.84 L390.52,198.84 L390.52,199.02 L392.48,199.02 L392.48,199.18 L394.44,199.18 L394.44,199.04 L396.4,199.04 L396.4,198.9 L398.36,198.9 L398.36,198.76 L400.32,198.76 L400.32,198.62 L402.28,198.62 L402.28,198.48 L404.24,198.48 L404.24,198.34 L406.2,198.34 L406.2,198.19 L408.16,198.19 L408.16,198.05 L410.12,198.05 L410.12,197.73 L412.08,197.73 L412.08,197.27 L414.04,197.27 L414.04,196.82 L416,196.82 L416,196.39 L417.96,196.39 L417.96,196 L419.92,196 L419.92,195.61 L421.88,195.61 L421.88,194.64 L423.84,194.64 L423.84,193.64 L425.8,193.64 L425.8,192.21 L427.76,192.21 L427.76,190.17 L429.72,190.17 L429.72,185.68 L431.68,185.68 L431.68,173.01 L433.15,173.01 L433.15,157.18 L435.6,157.18 L435.6,157.18 L437.25,157.18 L437.25,187.59 L438.35,187.59 L438.35,208.88 L439.52,208.88 L439.52,207.84 L441.48,207.84 L441.48,206.14 L443.44,206.14 L443.44,203.79 L445.4,203.79 L445.4,201.11 L447.36,201.11 L447.36,196.59 L449.32,196.59 L449.32,188.66 L451.28,188.66 L451.28,180 L452.25,180 L452.25,157.18 L453.24,157.18 L453.24,157.18 L455.45,157.18 L455.45,227.59 Z" fill="#ff7f50"/>
<rect x="417.9" y="194.94" width="0.9" height="10" fill="#fff"/>
<rect x="266.95" y="227.94" width="189.05" height="71.11" fill="none" stroke="#000" stroke-width="1.45"/>
<line x1="266.95" y1="227.94" x2="266.95" y2="217.34" stroke="#000" stroke-width="1.3"/>
<line x1="266.95" y1="299.05" x2="266.95" y2="309.65" stroke="#000" stroke-width="1.3"/>
<line x1="290.58" y1="227.94" x2="290.58" y2="222.54" stroke="#000" stroke-width="1.3"/>
<line x1="290.58" y1="299.05" x2="290.58" y2="304.45" stroke="#000" stroke-width="1.3"/>
<line x1="314.21" y1="227.94" x2="314.21" y2="217.34" stroke="#000" stroke-width="1.3"/>
<line x1="314.21" y1="299.05" x2="314.21" y2="309.65" stroke="#000" stroke-width="1.3"/>
<line x1="337.84" y1="227.94" x2="337.84" y2="222.54" stroke="#000" stroke-width="1.3"/>
<line x1="337.84" y1="299.05" x2="337.84" y2="304.45" stroke="#000" stroke-width="1.3"/>
<line x1="361.48" y1="227.94" x2="361.48" y2="217.34" stroke="#000" stroke-width="1.3"/>
<line x1="361.48" y1="299.05" x2="361.48" y2="309.65" stroke="#000" stroke-width="1.3"/>
<line x1="385.11" y1="227.94" x2="385.11" y2="222.54" stroke="#000" stroke-width="1.3"/>
<line x1="385.11" y1="299.05" x2="385.11" y2="304.45" stroke="#000" stroke-width="1.3"/>
<line x1="408.74" y1="227.94" x2="408.74" y2="217.34" stroke="#000" stroke-width="1.3"/>
<line x1="408.74" y1="299.05" x2="408.74" y2="309.65" stroke="#000" stroke-width="1.3"/>
<line x1="432.37" y1="227.94" x2="432.37" y2="222.54" stroke="#000" stroke-width="1.3"/>
<line x1="432.37" y1="299.05" x2="432.37" y2="304.45" stroke="#000" stroke-width="1.3"/>
<line x1="456" y1="227.94" x2="456" y2="217.34" stroke="#000" stroke-width="1.3"/>
<line x1="456" y1="299.05" x2="456" y2="309.65" stroke="#000" stroke-width="1.3"/>
<line x1="266.95" y1="227.94" x2="261.25" y2="227.94" stroke="#000" stroke-width="1.3"/>
<line x1="266.95" y1="251.64" x2="256.05" y2="251.64" stroke="#000" stroke-width="1.3"/>
<line x1="266.95" y1="275.35" x2="261.25" y2="275.35" stroke="#000" stroke-width="1.3"/>
<line x1="266.95" y1="299.05" x2="256.05" y2="299.05" stroke="#000" stroke-width="1.3"/>
<path d="M267.5,298.7 L267.5,228.29 L269,228.29 L269,228.29 L270.96,228.29 L270.96,228.29 L272.92,228.29 L272.92,228.29 L274.88,228.29 L274.88,228.29 L276.84,228.29 L276.84,228.29 L278.8,228.29 L278.8,228.29 L279.95,228.29 L279.95,238.09 L282.72,238.09 L282.72,247.38 L284.68,247.38 L284.68,253.56 L286.64,253.56 L286.64,258.42 L288.6,258.42 L288.6,261.99 L290.56,261.99 L290.56,264.4 L292.52,264.4 L292.52,266.26 L294.48,266.26 L294.48,268.09 L296.44,268.09 L296.44,269.88 L298.4,269.88 L298.4,271.2 L300.36,271.2 L300.36,272.52 L302.32,272.52 L302.32,273.76 L304.28,273.76 L304.28,274.79 L306.24,274.79 L306.24,275.81 L308.2,275.81 L308.2,276.83 L310.16,276.83 L310.16,277.58 L312.12,277.58 L312.12,278.26 L314.08,278.26 L314.08,278.95 L316.04,278.95 L316.04,279.64 L318,279.64 L318,280.12 L319.96,280.12 L319.96,280.58 L321.92,280.58 L321.92,281.05 L323.88,281.05 L323.88,281.51 L325.84,281.51 L325.84,281.97 L327.8,281.97 L327.8,282.39 L329.76,282.39 L329.76,282.71 L331.72,282.71 L331.72,283.03 L333.68,283.03 L333.68,283.35 L335.64,283.35 L335.64,283.67 L337.6,283.67 L337.6,283.98 L339.56,283.98 L339.56,284.24 L341.52,284.24 L341.52,284.45 L343.48,284.45 L343.48,284.66 L345.44,284.66 L345.44,284.88 L347.4,284.88 L347.4,285.09 L349.36,285.09 L349.36,285.3 L351.32,285.3 L351.32,285.46 L353.28,285.46 L353.28,285.62 L355.24,285.62 L355.24,285.78 L357.2,285.78 L357.2,285.94 L359.16,285.94 L359.16,286.11 L361.12,286.11 L361.12,286.26 L363.08,286.26 L363.08,286.4 L365.04,286.4 L365.04,286.54 L367,286.54 L367,286.68 L368.96,286.68 L368.96,286.82 L370.92,286.82 L370.92,286.94 L372.88,286.94 L372.88,287.03 L374.84,287.03 L374.84,287.11 L376.8,287.11 L376.8,287.2 L378.76,287.2 L378.76,287.05 L380.72,287.05 L380.72,286.89 L382.68,286.89 L382.68,286.74 L384.64,286.74 L384.64,286.58 L386.6,286.58 L386.6,286.36 L388.56,286.36 L388.56,286.03 L390.52,286.03 L390.52,285.71 L392.48,285.71 L392.48,285.4 L394.44,285.4 L394.44,285.27 L396.4,285.27 L396.4,285.14 L398.36,285.14 L398.36,284.86 L400.32,284.86 L400.32,284.51 L402.28,284.51 L402.28,284.02 L404.24,284.02 L404.24,283.3 L406.2,283.3 L406.2,282.18 L408.16,282.18 L408.16,279.83 L410.75,279.83 L410.75,271.8 L412.08,271.8 L412.08,271.8 L414.04,271.8 L414.04,271.8 L415.85,271.8 L415.85,292.3 L417.96,292.3 L417.96,292.1 L419.92,292.1 L419.92,291.92 L421.88,291.92 L421.88,291.75 L423.84,291.75 L423.84,291.58 L425.8,291.58 L425.8,291.4 L427.76,291.4 L427.76,291.23 L429.72,291.23 L429.72,291.06 L431.68,291.06 L431.68,290.87 L433.64,290.87 L433.64,290.51 L435.6,290.51 L435.6,290.16 L437.56,290.16 L437.56,289.79 L439.52,289.79 L439.52,289.4 L441.48,289.4 L441.48,289.01 L443.44,289.01 L443.44,288.34 L445.4,288.34 L445.4,287.58 L447.36,287.58 L447.36,286.36 L449.32,286.36 L449.32,283.43 L451.28,283.43 L451.28,279.06 L452.35,279.06 L452.35,255.3 L455.45,255.3 L455.45,298.7 Z" fill="#a020f0"/>
<rect x="394.4" y="285.05" width="0.9" height="4.4" fill="#fff"/>
<g font-family='"Liberation Sans", sans-serif' font-size="13.8" fill="#000" stroke="#fff" stroke-width="0.04">
<text x="43.2" y="318.9" text-anchor="middle">-0.3</text>
<text x="90.38" y="318.9" text-anchor="middle">-0.15</text>
<text x="139.47" y="318.9" text-anchor="middle">0</text>
<text x="186.64" y="318.9" text-anchor="middle">0.15</text>
<text x="233.82" y="318.9" text-anchor="middle">0.3</text>
<text x="268.87" y="321" text-anchor="middle">0</text>
<text x="316.13" y="321" text-anchor="middle">0.25</text>
<text x="363.39" y="321" text-anchor="middle">0.5</text>
<text x="410.66" y="321" text-anchor="middle">0.75</text>
<text x="457.92" y="321" text-anchor="middle">1</text>
<text x="34.4" y="19.4" text-anchor="end">2</text>
<text x="34.4" y="90.51" text-anchor="end">1</text>
<text x="34.4" y="161.62" text-anchor="end">0</text>
<text x="34.4" y="232.74" text-anchor="end">1</text>
<text x="34.4" y="303.85" text-anchor="end">0</text>
</g>
<g font-family='"Liberation Serif", serif' font-size="18.56" fill="#000" stroke="#fff" stroke-width="0.14">
<text x="361.58" y="47.4" font-style="italic" textLength="13.1" lengthAdjust="spacingAndGlyphs">V</text>
<path d="M366.49,32.66 c0.79,-1.82 2.1,-1.82 3.28,-0.73 s2.36,1.27 3.28,-0.91" fill="none" stroke="#000" stroke-width="1.13" stroke-linecap="round"/>
<text x="382.15" y="47.4" textLength="14.2" lengthAdjust="spacingAndGlyphs">=</text>
<text x="402.17" y="47.4">0</text>
</g>
<g font-family='"Liberation Serif", serif' font-size="18.56" fill="#000" stroke="#fff" stroke-width="0.14">
<text x="355.98" y="118.7" font-style="italic" textLength="13.1" lengthAdjust="spacingAndGlyphs">V</text>
<path d="M360.89,103.96 c0.79,-1.82 2.1,-1.82 3.28,-0.73 s2.36,1.27 3.28,-0.91" fill="none" stroke="#000" stroke-width="1.13" stroke-linecap="round"/>
<text x="376.55" y="118.7" textLength="14.2" lengthAdjust="spacingAndGlyphs">=</text>
<text x="396.57" y="118.7">2</text>
<text x="405.85" y="118.7">.</text>
<text x="410.73" y="118.7">5</text>
</g>
<g font-family='"Liberation Serif", serif' font-size="18.56" fill="#000" stroke="#fff" stroke-width="0.14">
<text x="355.38" y="189.6" font-style="italic" textLength="13.1" lengthAdjust="spacingAndGlyphs">V</text>
<path d="M360.29,174.86 c0.79,-1.82 2.1,-1.82 3.28,-0.73 s2.36,1.27 3.28,-0.91" fill="none" stroke="#000" stroke-width="1.13" stroke-linecap="round"/>
<text x="375.95" y="189.6" textLength="14.2" lengthAdjust="spacingAndGlyphs">=</text>
<text x="395.97" y="189.6">3</text>
<text x="405.25" y="189.6">.</text>
<text x="410.13" y="189.6">3</text>
</g>
<g font-family='"Liberation Serif", serif' font-size="18.56" fill="#000" stroke="#fff" stroke-width="0.14">
<text x="355.38" y="260.6" font-style="italic" textLength="13.1" lengthAdjust="spacingAndGlyphs">V</text>
<path d="M360.29,245.86 c0.79,-1.82 2.1,-1.82 3.28,-0.73 s2.36,1.27 3.28,-0.91" fill="none" stroke="#000" stroke-width="1.13" stroke-linecap="round"/>
<text x="375.95" y="260.6" textLength="14.2" lengthAdjust="spacingAndGlyphs">=</text>
<text x="395.97" y="260.6">3</text>
<text x="405.25" y="260.6">.</text>
<text x="410.13" y="260.6">6</text>
</g>
<g font-family='"Liberation Serif", serif' font-size="13.08" fill="#000" stroke="#fff" stroke-width="0.06">
<text x="157.73" y="45.4" font-style="italic" textLength="9.14" lengthAdjust="spacingAndGlyphs">V</text>
<path d="M161.16,35.43 c0.55,-1.27 1.46,-1.27 2.29,-0.51 s1.65,0.89 2.29,-0.64" fill="none" stroke="#000" stroke-width="0.79" stroke-linecap="round"/>
<text x="172.08" y="45.4" textLength="9.91" lengthAdjust="spacingAndGlyphs">=</text>
<text x="186.05" y="45.4">0</text>
</g>
<g font-family='"Liberation Serif", serif' font-size="13.08" fill="#000" stroke="#fff" stroke-width="0.06">
<text x="153.83" y="66.7" font-style="italic" textLength="9.14" lengthAdjust="spacingAndGlyphs">V</text>
<path d="M157.26,56.73 c0.55,-1.27 1.46,-1.27 2.29,-0.51 s1.65,0.89 2.29,-0.64" fill="none" stroke="#000" stroke-width="0.79" stroke-linecap="round"/>
<text x="168.18" y="66.7" textLength="9.91" lengthAdjust="spacingAndGlyphs">=</text>
<text x="182.15" y="66.7">2</text>
<text x="188.63" y="66.7">.</text>
<text x="192.03" y="66.7">5</text>
</g>
<g font-family='"Liberation Serif", serif' font-size="13.08" fill="#000" stroke="#fff" stroke-width="0.06">
<text x="152.63" y="88" font-style="italic" textLength="9.14" lengthAdjust="spacingAndGlyphs">V</text>
<path d="M156.06,78.03 c0.55,-1.27 1.46,-1.27 2.29,-0.51 s1.65,0.89 2.29,-0.64" fill="none" stroke="#000" stroke-width="0.79" stroke-linecap="round"/>
<text x="166.98" y="88" textLength="9.91" lengthAdjust="spacingAndGlyphs">=</text>
<text x="180.95" y="88">3</text>
<text x="187.43" y="88">.</text>
<text x="190.83" y="88">3</text>
</g>
<g font-family='"Liberation Serif", serif' font-size="13.08" fill="#000" stroke="#fff" stroke-width="0.06">
<text x="152.63" y="109.2" font-style="italic" textLength="9.14" lengthAdjust="spacingAndGlyphs">V</text>
<path d="M156.06,99.23 c0.55,-1.27 1.46,-1.27 2.29,-0.51 s1.65,0.89 2.29,-0.64" fill="none" stroke="#000" stroke-width="0.79" stroke-linecap="round"/>
<text x="166.98" y="109.2" textLength="9.91" lengthAdjust="spacingAndGlyphs">=</text>
<text x="180.95" y="109.2">3</text>
<text x="187.43" y="109.2">.</text>
<text x="190.83" y="109.2">6</text>
</g>
<g fill="none" stroke-width="1.45">
<path d="M201.2,39.6 H217.8" stroke="#0000ff"/>
<path d="M201.3,60.8 H217.9" stroke="#ff0000" stroke-dasharray="3.2 1.1"/>
<path d="M201.9,82.1 H216.4" stroke="#ff7f50" stroke-dasharray="1.3 2.1"/>
<path d="M201.3,103.3 H215.6" stroke="#a020f0" stroke-dasharray="4.3 1.6 1.1 1.6 5.7 9"/>
</g>
<g font-family='"Liberation Serif", serif' font-size="20.6" fill="#000" stroke="#fff" stroke-width="0.12">
<text x="301.6" y="345.8" textLength="120" lengthAdjust="spacingAndGlyphs">Transmission</text>
<g transform="translate(250.3,242.9) rotate(-90)">
<text x="0" y="0" textLength="57.2" lengthAdjust="spacingAndGlyphs">counts</text>
<text x="64.4" y="0" textLength="42.6" lengthAdjust="spacingAndGlyphs">(arb.</text>
<text x="117.4" y="0" textLength="56.4" lengthAdjust="spacingAndGlyphs">units)</text>
</g>
<g transform="translate(17.6,176.3) rotate(-90)">
<text x="-1.1" y="0.5" font-style="italic" font-size="21" textLength="12.9" lengthAdjust="spacingAndGlyphs">T</text>
<text x="14.9" y="0" textLength="7.4" lengthAdjust="spacingAndGlyphs">(</text>
<text x="23.2" y="0" font-style="italic">q</text>
<text x="34.2" y="0" textLength="8.0" lengthAdjust="spacingAndGlyphs">)</text>
</g>
<text x="114.6" y="338.3" font-style="italic" font-size="22" textLength="10.6" lengthAdjust="spacingAndGlyphs">q</text>
<text x="125.4" y="338.3" font-style="italic" font-size="22" textLength="11.6" lengthAdjust="spacingAndGlyphs">d</text>
<text x="136.8" y="342.0" font-style="italic" font-size="15" textLength="10.6" lengthAdjust="spacingAndGlyphs">S</text>
<text x="147.6" y="342.0" font-style="italic" font-size="15" textLength="12.6" lengthAdjust="spacingAndGlyphs">C</text>
</g>
</svg></body></html>
